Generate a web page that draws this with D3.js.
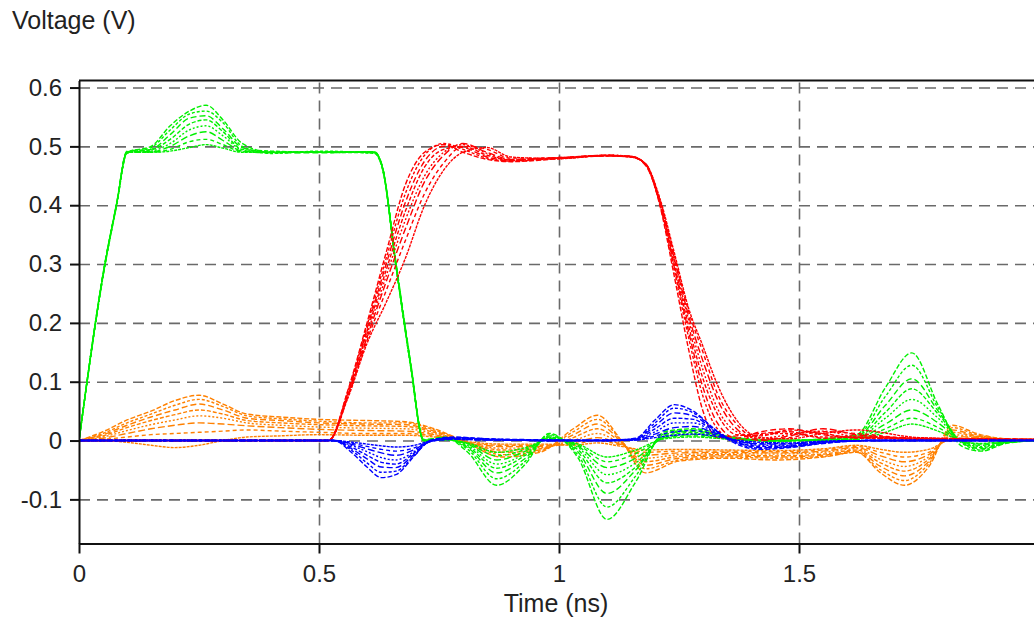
<!DOCTYPE html>
<html lang="en">

<head>
  <meta charset="UTF-8">
  <title>Voltage vs Time</title>
  <script src="https://d3js.org/d3.v7.min.js"></script>
  <style>
    body { margin: 0; background: #fff; }
    text { font-family: "Liberation Sans", Arial, sans-serif; fill: #222; }
    .grid line { stroke: #6a6a6a; stroke-width: 1.6; stroke-dasharray: 11, 7; }
    .grid .domain { display: none; }
    .axis path, .axis line { stroke: #111; stroke-width: 2; }
    .axis text { font-size: 24px; }
    .trace { fill: none; stroke-width: 1.4; }
  </style>
</head>

<body>
  <div id="chart"></div>

  <script>
    // tick values and labels
    const xTicks = [0, 0.5, 1, 1.5];
    const xTickLabels = ["0", "0.5", "1", "1.5"];
    const yTicks = [-0.1, 0, 0.1, 0.2, 0.3, 0.4, 0.5, 0.6];
    const yTickLabels = ["-0.1", "0", "0.1", "0.2", "0.3", "0.4", "0.5", "0.6"];

    // green traces (ns / V)
    const greenTime = [0, 0.054, 0.078, 0.1, 0.15, 0.19, 0.23, 0.265, 0.3, 0.34, 0.4, 0.5, 0.615, 0.632, 0.66, 0.69, 0.718, 0.76, 0.81, 0.87, 0.93, 0.98, 1.04, 1.1, 1.16, 1.22, 1.28, 1.36, 1.45, 1.55, 1.62, 1.68, 1.735, 1.79, 1.84, 1.88, 1.93, 2.0];
    const greenTraces = [
      [0, 0.3, 0.4, 0.49, 0.5, 0.535, 0.56, 0.57, 0.545, 0.505, 0.49, 0.49, 0.49, 0.465, 0.3, 0.135, 0.0, 0.006, -0.02, -0.076, -0.04, 0.012, -0.03, -0.134, -0.07, 0.015, 0.02, 0.006, 0.0, 0.002, 0.01, 0.09, 0.149, 0.06, -0.01, -0.018, -0.005, 0],
      [0, 0.298, 0.398, 0.488, 0.498, 0.528, 0.555, 0.56, 0.54, 0.5, 0.488, 0.492, 0.488, 0.462, 0.3, 0.13, 0.0, 0.005, -0.015, -0.065, -0.035, 0.01, -0.025, -0.113, -0.06, 0.012, 0.018, 0.004, -0.002, 0.003, 0.008, 0.075, 0.128, 0.055, -0.005, -0.016, -0.004, 0],
      [0, 0.302, 0.402, 0.492, 0.495, 0.52, 0.548, 0.552, 0.53, 0.498, 0.49, 0.489, 0.491, 0.466, 0.305, 0.138, 0.002, 0.004, -0.012, -0.055, -0.03, 0.008, -0.02, -0.09, -0.05, 0.01, 0.016, 0.005, 0.001, 0.0, 0.006, 0.06, 0.105, 0.05, -0.004, -0.014, -0.004, 0],
      [0, 0.3, 0.4, 0.49, 0.494, 0.512, 0.538, 0.545, 0.525, 0.495, 0.492, 0.49, 0.489, 0.463, 0.298, 0.132, 0.0, 0.003, -0.01, -0.047, -0.025, 0.006, -0.016, -0.072, -0.045, 0.008, 0.014, 0.003, 0.0, 0.002, 0.005, 0.048, 0.088, 0.045, -0.003, -0.012, -0.003, 0],
      [0, 0.297, 0.399, 0.489, 0.492, 0.505, 0.528, 0.535, 0.518, 0.494, 0.49, 0.491, 0.49, 0.464, 0.302, 0.134, 0.001, 0.003, -0.008, -0.04, -0.022, 0.005, -0.012, -0.058, -0.038, 0.006, 0.012, 0.004, 0.0, 0.001, 0.004, 0.038, 0.07, 0.038, -0.002, -0.01, -0.003, 0],
      [0, 0.301, 0.401, 0.491, 0.491, 0.5, 0.518, 0.525, 0.51, 0.492, 0.489, 0.49, 0.49, 0.465, 0.3, 0.135, 0.0, 0.002, -0.006, -0.033, -0.018, 0.004, -0.01, -0.046, -0.03, 0.005, 0.01, 0.003, 0.0, 0.001, 0.003, 0.028, 0.052, 0.03, -0.002, -0.008, -0.002, 0],
      [0, 0.3, 0.4, 0.49, 0.49, 0.495, 0.508, 0.512, 0.503, 0.491, 0.49, 0.49, 0.491, 0.465, 0.301, 0.133, 0.0, 0.002, -0.005, -0.026, -0.015, 0.003, -0.008, -0.036, -0.022, 0.004, 0.008, 0.002, 0.0, 0.0, 0.002, 0.02, 0.038, 0.022, -0.001, -0.006, -0.002, 0],
      [0, 0.299, 0.4, 0.49, 0.49, 0.492, 0.498, 0.503, 0.497, 0.49, 0.49, 0.49, 0.49, 0.464, 0.3, 0.134, 0.0, 0.001, -0.004, -0.02, -0.012, 0.002, -0.006, -0.028, -0.016, 0.003, 0.006, 0.002, 0.0, 0.0, 0.002, 0.014, 0.028, 0.016, -0.001, -0.005, -0.001, 0]
    ];

    // red traces
    const redTime = [0, 0.52, 0.56, 0.6, 0.64, 0.68, 0.72, 0.76, 0.8, 0.85, 0.9, 1.0, 1.1, 1.15, 1.18, 1.21, 1.24, 1.27, 1.3, 1.33, 1.37, 1.42, 1.48, 1.55, 1.62, 1.75, 2.0];
    const redTraces = [
      [0, 0, 0.085, 0.2, 0.32, 0.435, 0.49, 0.503, 0.49, 0.478, 0.474, 0.479, 0.484, 0.483, 0.47, 0.4, 0.28, 0.155, 0.05, 0.005, 0.008, 0.012, 0.015, 0.004, 0.006, 0.003, 0.002],
      [0, 0, 0.083, 0.195, 0.31, 0.42, 0.485, 0.505, 0.495, 0.48, 0.475, 0.48, 0.484, 0.482, 0.47, 0.402, 0.29, 0.175, 0.075, 0.02, 0.0, 0.01, 0.012, 0.006, 0.008, 0.002, 0.001],
      [0, 0, 0.08, 0.19, 0.3, 0.405, 0.475, 0.5, 0.498, 0.482, 0.476, 0.48, 0.485, 0.483, 0.468, 0.404, 0.295, 0.185, 0.09, 0.03, 0.004, 0.015, 0.02, 0.01, 0.005, 0.004, 0.002],
      [0, 0, 0.078, 0.185, 0.29, 0.39, 0.465, 0.495, 0.5, 0.485, 0.477, 0.481, 0.484, 0.482, 0.47, 0.406, 0.3, 0.195, 0.105, 0.045, 0.01, 0.008, 0.018, 0.012, 0.004, 0.003, 0.001],
      [0, 0, 0.077, 0.18, 0.28, 0.375, 0.45, 0.49, 0.503, 0.488, 0.476, 0.48, 0.485, 0.483, 0.469, 0.405, 0.305, 0.205, 0.12, 0.055, 0.015, 0.004, 0.01, 0.016, 0.006, 0.002, 0.002],
      [0, 0, 0.075, 0.175, 0.27, 0.36, 0.44, 0.485, 0.505, 0.49, 0.478, 0.481, 0.484, 0.482, 0.471, 0.408, 0.31, 0.212, 0.135, 0.07, 0.02, 0.0, 0.008, 0.02, 0.01, 0.004, 0.001],
      [0, 0, 0.074, 0.17, 0.255, 0.34, 0.42, 0.472, 0.5, 0.495, 0.48, 0.48, 0.484, 0.483, 0.47, 0.41, 0.315, 0.22, 0.15, 0.08, 0.028, 0.002, 0.005, 0.015, 0.012, 0.003, 0.002],
      [0, 0, 0.072, 0.165, 0.235, 0.31, 0.4, 0.46, 0.49, 0.498, 0.482, 0.479, 0.485, 0.482, 0.471, 0.412, 0.32, 0.225, 0.16, 0.095, 0.035, 0.005, 0.003, 0.012, 0.018, 0.005, 0.001]
    ];

    // blue traces
    const blueTime = [0, 0.53, 0.57, 0.6, 0.63, 0.66, 0.7, 0.73, 0.78, 0.85, 1.0, 1.1, 1.16, 1.2, 1.24, 1.28, 1.32, 1.36, 1.42, 1.48, 1.55, 1.65, 1.8, 2.0];
    const blueTraces = [
      [0, 0, -0.022, -0.045, -0.063, -0.058, -0.025, 0.0, 0.006, 0.003, 0.001, 0.0, 0.004, 0.035, 0.061, 0.05, 0.022, -0.002, -0.015, -0.012, -0.005, 0.0, 0.0, 0],
      [0, 0, -0.018, -0.038, -0.054, -0.052, -0.024, -0.001, 0.005, 0.003, 0.0, 0.0, 0.003, 0.03, 0.055, 0.047, 0.022, 0.0, -0.013, -0.01, -0.004, 0.0, 0.0, 0],
      [0, 0, -0.015, -0.031, -0.045, -0.046, -0.022, -0.002, 0.005, 0.002, 0.0, 0.001, 0.003, 0.025, 0.047, 0.042, 0.02, 0.001, -0.012, -0.011, -0.004, 0.0, 0.0, 0],
      [0, 0, -0.012, -0.025, -0.037, -0.04, -0.02, -0.002, 0.004, 0.002, 0.0, 0.0, 0.002, 0.02, 0.038, 0.036, 0.018, 0.001, -0.01, -0.009, -0.003, 0.0, 0.0, 0],
      [0, 0, -0.009, -0.019, -0.029, -0.033, -0.018, -0.002, 0.004, 0.002, 0.0, 0.0, 0.002, 0.015, 0.03, 0.03, 0.016, 0.002, -0.008, -0.008, -0.003, 0.0, 0.0, 0],
      [0, 0, -0.007, -0.014, -0.021, -0.025, -0.015, -0.002, 0.003, 0.001, 0.0, 0.0, 0.001, 0.011, 0.022, 0.024, 0.014, 0.002, -0.006, -0.006, -0.002, 0.0, 0.0, 0],
      [0, 0, -0.005, -0.01, -0.015, -0.018, -0.012, -0.002, 0.002, 0.001, 0.0, 0.0, 0.001, 0.008, 0.015, 0.017, 0.011, 0.002, -0.005, -0.005, -0.002, 0.0, 0.0, 0],
      [0, 0, -0.003, -0.006, -0.009, -0.011, -0.008, -0.001, 0.002, 0.001, 0.0, 0.0, 0.001, 0.005, 0.009, 0.011, 0.008, 0.002, -0.003, -0.004, -0.001, 0.0, 0.0, 0]
    ];

    // orange traces
    const orangeTime = [0, 0.05, 0.1, 0.15, 0.2, 0.25, 0.3, 0.35, 0.42, 0.5, 0.6, 0.68, 0.74, 0.8, 0.88, 0.96, 1.03, 1.08, 1.13, 1.18, 1.25, 1.35, 1.45, 1.55, 1.62, 1.67, 1.72, 1.77, 1.82, 1.87, 1.93, 2.0];
    const orangeTraces = [
      [0, 0.015, 0.035, 0.05, 0.068, 0.077, 0.062, 0.045, 0.04, 0.036, 0.034, 0.032, 0.02, 0.0, -0.028, -0.02, 0.02, 0.043, 0.0, -0.055, -0.035, -0.03, -0.033, -0.028, -0.02, -0.055, -0.076, -0.045, 0.026, 0.012, 0.003, 0.002],
      [0, 0.012, 0.03, 0.045, 0.06, 0.07, 0.058, 0.042, 0.037, 0.033, 0.03, 0.03, 0.018, 0.0, -0.024, -0.018, 0.015, 0.036, 0.0, -0.048, -0.033, -0.028, -0.03, -0.027, -0.02, -0.05, -0.068, -0.04, 0.022, 0.01, 0.003, 0.002],
      [0, 0.01, 0.026, 0.04, 0.052, 0.062, 0.052, 0.038, 0.034, 0.03, 0.028, 0.027, 0.016, 0.0, -0.02, -0.016, 0.01, 0.028, -0.002, -0.042, -0.03, -0.026, -0.028, -0.025, -0.018, -0.044, -0.06, -0.036, 0.018, 0.008, 0.002, 0.001],
      [0, 0.008, 0.022, 0.034, 0.044, 0.052, 0.045, 0.034, 0.03, 0.027, 0.025, 0.024, 0.014, -0.001, -0.016, -0.014, 0.005, 0.02, -0.004, -0.036, -0.027, -0.024, -0.026, -0.023, -0.016, -0.038, -0.052, -0.032, 0.014, 0.007, 0.002, 0.001],
      [0, 0.006, 0.017, 0.027, 0.035, 0.042, 0.038, 0.03, 0.026, 0.023, 0.021, 0.02, 0.012, -0.002, -0.013, -0.012, 0.0, 0.012, -0.006, -0.03, -0.024, -0.022, -0.023, -0.02, -0.014, -0.032, -0.044, -0.028, 0.01, 0.006, 0.002, 0.001],
      [0, 0.004, 0.012, 0.02, 0.026, 0.03, 0.028, 0.025, 0.022, 0.019, 0.017, 0.016, 0.01, -0.002, -0.01, -0.01, -0.004, 0.005, -0.007, -0.025, -0.021, -0.02, -0.021, -0.018, -0.012, -0.026, -0.036, -0.024, 0.007, 0.005, 0.001, 0.001],
      [0, 0.002, 0.006, 0.01, 0.012, 0.014, 0.016, 0.018, 0.016, 0.014, 0.012, 0.012, 0.008, -0.002, -0.008, -0.008, -0.006, 0.0, -0.008, -0.02, -0.018, -0.018, -0.019, -0.016, -0.01, -0.02, -0.028, -0.02, 0.004, 0.004, 0.001, 0.0],
      [0, 0.0, -0.003, -0.008, -0.012, -0.008, 0.0, 0.006, 0.008, 0.01, 0.009, 0.009, 0.006, -0.001, -0.006, -0.006, -0.008, -0.004, -0.01, -0.016, -0.015, -0.016, -0.017, -0.014, -0.008, -0.015, -0.02, -0.015, 0.002, 0.003, 0.0, 0.0]
    ];

    // dash pattern per trace index
    const dashes = ["5,2", "3,2", "6,3", "4,2", "2,2", "7,3", "4,3", "3,1"];

    const width = 1034, height = 624;
    const plotLeft = 79, plotRight = 1039, plotTop = 80.5, plotBottom = 543.5;

    const svg = d3.select("#chart").append("svg")
      .attr("width", width)
      .attr("height", height);

    const x = d3.scaleLinear().domain([0, 2]).range([plotLeft, plotRight]);
    const y = d3.scaleLinear().domain([-0.175, 0.612]).range([plotBottom, plotTop]);

    // grid lines
    svg.append("g")
      .attr("class", "grid")
      .attr("transform", `translate(${plotLeft},0)`)
      .call(d3.axisLeft(y).tickValues(yTicks).tickSize(-(plotRight - plotLeft)).tickFormat(""));

    svg.append("g")
      .attr("class", "grid")
      .attr("transform", `translate(0,${plotBottom})`)
      .call(d3.axisBottom(x).tickValues(xTicks.filter(d => d > 0)).tickSize(-(plotBottom - plotTop)).tickFormat(""));

    // clip for the traces
    svg.append("clipPath").attr("id", "plot-clip")
      .append("rect")
      .attr("x", plotLeft).attr("y", plotTop)
      .attr("width", plotRight - plotLeft).attr("height", plotBottom - plotTop);

    const line = d3.line()
      .x(d => x(d[0]))
      .y(d => y(d[1]))
      .curve(d3.curveMonotoneX);

    const plot = svg.append("g").attr("clip-path", "url(#plot-clip)");

    function drawFamily(times, traces, color, strokeWidth) {
      plot.append("g")
        .selectAll("path")
        .data(traces)
        .join("path")
        .attr("class", "trace")
        .attr("stroke", color)
        .attr("stroke-width", strokeWidth)
        .attr("stroke-dasharray", (d, i) => dashes[i % dashes.length])
        .attr("d", vals => line(vals.map((v, i) => [times[i], v])));
    }

    drawFamily(orangeTime, orangeTraces, "#ff8000", 1.4);
    drawFamily(greenTime, greenTraces, "#00f000", 1.4);
    drawFamily(redTime, redTraces, "#ff0000", 1.4);
    drawFamily(blueTime, blueTraces, "#0000ff", 1.6);

    // axes
    svg.append("g")
      .attr("class", "axis")
      .attr("transform", `translate(${plotLeft},0)`)
      .call(d3.axisLeft(y).tickValues(yTicks).tickSize(9).tickSizeOuter(0).tickPadding(8)
        .tickFormat((d, i) => yTickLabels[i]));

    svg.append("g")
      .attr("class", "axis")
      .attr("transform", `translate(0,${plotBottom})`)
      .call(d3.axisBottom(x).tickValues(xTicks).tickSize(10).tickSizeOuter(0).tickPadding(11)
        .tickFormat((d, i) => xTickLabels[i]));

    // top border of the frame
    svg.append("line")
      .attr("x1", plotLeft).attr("x2", plotRight)
      .attr("y1", plotTop).attr("y2", plotTop)
      .attr("stroke", "#111").attr("stroke-width", 2);

    // axis titles
    svg.append("text")
      .attr("x", 12).attr("y", 29)
      .attr("font-size", 25)
      .text("Voltage (V)");

    svg.append("text")
      .attr("x", 556).attr("y", 612)
      .attr("text-anchor", "middle")
      .attr("font-size", 25)
      .text("Time (ns)");
  </script>
</body>

</html>
